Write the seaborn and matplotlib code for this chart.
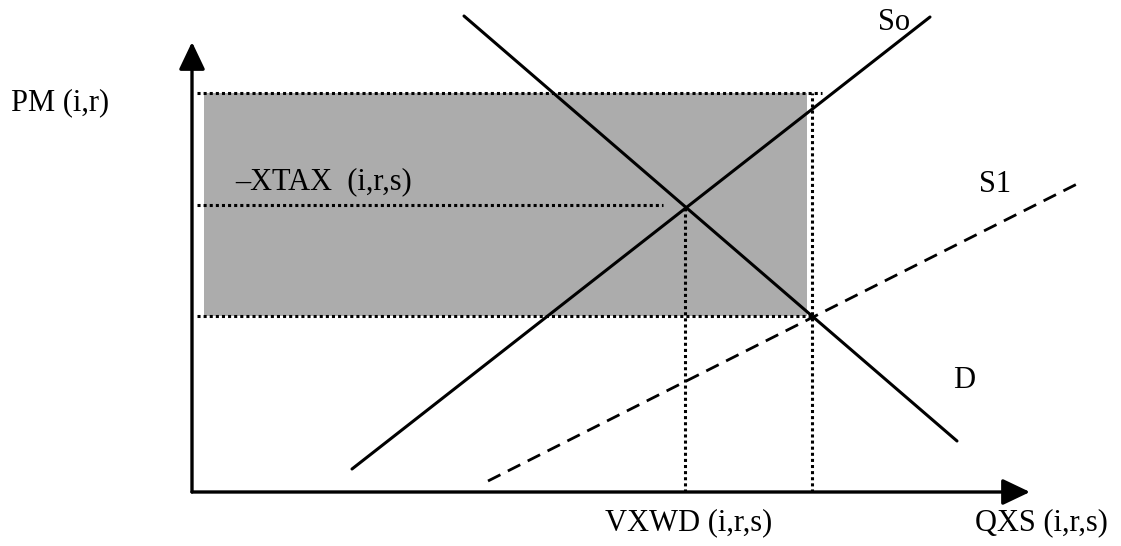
import matplotlib
matplotlib.use('Agg')
import matplotlib.pyplot as plt
import seaborn as sns
import pandas as pd

sns.set_theme(style='white')
plt.rcParams['font.family'] = ['Liberation Serif', 'DejaVu Serif']

# Curve end points (quantity, price) measured from the axes corner
so_q = [160, 738]
so_p = [23, 475]
d_q = [272, 765]
d_p = [476, 51]
s1_q = [296, 887]
s1_p = [11, 309]

# Equilibrium levels
q_before = 493   # VXWD (i,r,s)
q_after = 620
p_top = 399
p_tax = 287
p_after = 176

# Axis lengths
q_axis_end = 838
p_axis_end = 450

# Labels
y_label = 'PM (i,r)'
x_label = 'QXS (i,r,s)'
q_label = 'VXWD (i,r,s)'
tax_label = '\u2013XTAX  (i,r,s)'
curve_labels = ['So', 'S1', 'D']

df = pd.concat([
    pd.DataFrame({'Q': so_q, 'P': so_p, 'curve': 'So'}),
    pd.DataFrame({'Q': d_q, 'P': d_p, 'curve': 'D'}),
    pd.DataFrame({'Q': s1_q, 'P': s1_p, 'curve': 'S1'}),
])

fig = plt.figure(figsize=(11.21, 5.46), dpi=100)
ax = fig.add_axes([0, 0, 1, 1])
ax.set_xlim(-192, 929)
ax.set_ylim(-54, 492)
ax.axis('off')

# shaded tax revenue area
ax.fill_between([12, q_after - 5], p_after, p_top, color='#acacac', lw=0, zorder=1)

# dotted guide lines
dot = dict(color='black', lw=2.2, linestyle=(0, (1, 1)), zorder=2)
ax.plot([5, q_after + 10], [p_top, p_top], **dot)
ax.plot([5, q_before - 22], [p_tax, p_tax], **dot)
ax.plot([5, q_after], [p_after, p_after], **dot)
ax.plot([q_before, q_before], [0, p_tax], **dot)
ax.plot([q_after, q_after], [0, p_top], **dot)

# supply and demand curves
sns.lineplot(data=df[df['curve'] == 'So'], x='Q', y='P', ax=ax,
             color='black', lw=2.2, zorder=3)
sns.lineplot(data=df[df['curve'] == 'D'], x='Q', y='P', ax=ax,
             color='black', lw=2.2, zorder=3)
sns.lineplot(data=df[df['curve'] == 'S1'], x='Q', y='P', ax=ax,
             color='black', lw=2.0, linestyle=(0, (5, 3)), zorder=3)

# axes with arrows
arrow = dict(arrowstyle='-|>,head_length=1.05,head_width=0.5', lw=2.4,
             color='black', shrinkA=0, shrinkB=0, mutation_scale=16)
ax.annotate('', xy=(0, p_axis_end), xytext=(0, 0), arrowprops=arrow, zorder=4)
ax.annotate('', xy=(q_axis_end, 0), xytext=(0, 0), arrowprops=arrow, zorder=4)

fs = 22
txt = dict(fontsize=fs, va='center', ha='left', color='black')
ax.text(-181, 389, y_label, **txt)
ax.text(783, -31, x_label, **txt)
ax.text(413, -31, q_label, **txt)
ax.text(43, 310, tax_label, zorder=5, **txt)
ax.text(686, 470, curve_labels[0], **txt)
ax.text(787, 308, curve_labels[1], **txt)
ax.text(761, 112, curve_labels[2], **txt)

fig.savefig('out.png', dpi=100)
